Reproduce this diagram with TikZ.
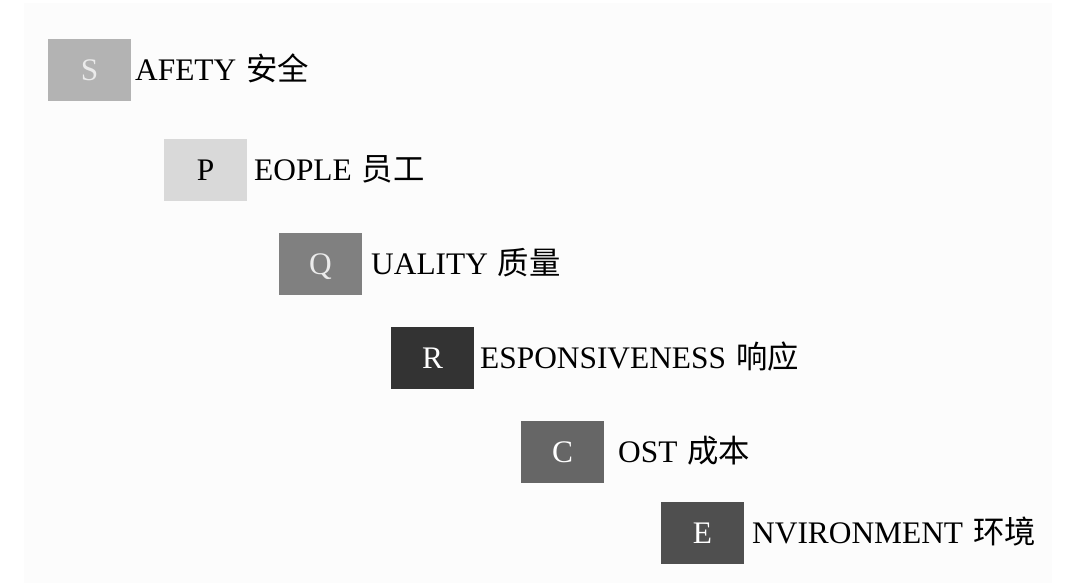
\documentclass[tikz,border=0pt]{standalone}
\usepackage{fontspec}
\setmainfont{Liberation Serif}
\newfontfamily\cjk{Noto Sans CJK SC}
\definecolor{bgc}{HTML}{FCFCFC}
\definecolor{cS}{HTML}{B3B3B3}
\definecolor{cP}{HTML}{D9D9D9}
\definecolor{cQ}{HTML}{808080}
\definecolor{cR}{HTML}{333333}
\definecolor{cC}{HTML}{666666}
\definecolor{cE}{HTML}{4F4F4F}
\newcommand{\gapcjk}{\hspace{10bp}}
\begin{document}
\begin{tikzpicture}[x=1bp,y=-1bp,
  box/.style={minimum width=83bp, minimum height=62bp, inner sep=0pt, outer sep=0pt,
    text height=21bp, text depth=0pt, font=\fontsize{31.5}{31.5}\selectfont},
  lab/.style={anchor=base west, inner sep=0pt, font=\fontsize{31.5}{31.5}\selectfont}]
\useasboundingbox (0,0) rectangle (1074,583);
\fill[white] (0,0) rectangle (1074,583);
\fill[bgc] (24,3) rectangle (1052,583);
\node[box, fill=cS, text=white!92!black] (s) at (89.5,70) {S};
\node[lab] (sl) at (135,80.5) {AFETY\gapcjk{\cjk 安全}};
\node[box, fill=cP, text=black] (p) at (205.5,170) {P};
\node[lab] (pl) at (254,180.5) {EOPLE\gapcjk{\cjk 员工}};
\node[box, fill=cQ, text=white!92!black] (q) at (320.5,264) {Q};
\node[lab] (ql) at (371,274.5) {UALITY\gapcjk{\cjk 质量}};
\node[box, fill=cR, text=white] (r) at (432.5,358) {R};
\node[lab] (rl) at (480,368.5) {ESPONSIVENESS\gapcjk{\cjk 响应}};
\node[box, fill=cC, text=white] (c) at (562.5,451.5) {C};
\node[lab] (cl) at (618,462) {OST\gapcjk{\cjk 成本}};
\node[box, fill=cE, text=white] (e) at (702.5,532.5) {E};
\node[lab] (el) at (752,543) {NVIRONMENT\gapcjk{\cjk 环境}};
\end{tikzpicture}
\end{document}
